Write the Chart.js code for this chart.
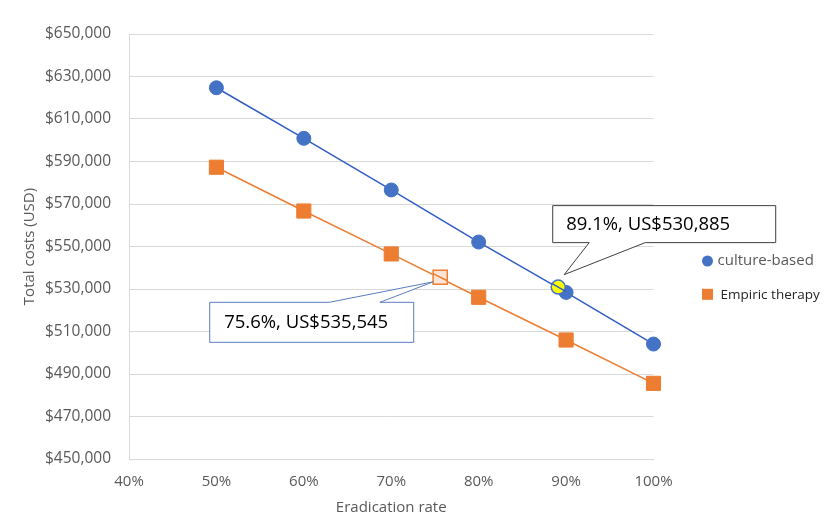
<!DOCTYPE html>
<html>
<head>
<meta charset="utf-8">
<script src="https://cdn.jsdelivr.net/npm/chart.js@4.4.0/dist/chart.umd.min.js"></script>
<style>
  html, body { margin: 0; padding: 0; background: #ffffff; }
  #wrap { width: 829px; height: 531px; position: relative; }
</style>
</head>
<body>
<div id="wrap"><canvas id="c"></canvas></div>
<script>
// ---- data ----
const rates = [50, 60, 70, 80, 90, 100];
const cultureCosts = [624700, 600900, 576600, 552100, 528400, 504100];
const empiricCosts = [587300, 566700, 546500, 526100, 506000, 485600];
const seriesNames = ['culture-based', 'Empiric therapy'];
const cultureThreshold = { x: 89.1, y: 530885 };
const empiricThreshold = { x: 75.6, y: 535545 };
const cultureLabel = '89.1%, US$530,885';
const empiricLabel = '75.6%, US$535,545';
const yTitle = 'Total costs (USD)';
const xTitle = 'Eradication rate';

const BLUE = '#4472C4';
const BLUE_LINE = '#2F5DC4';
const ORANGE = '#ED7D31';
const GRAY_TXT = '#595959';
const FONT = "'Open Sans', 'Noto Sans', sans-serif";

const toPts = (xs, ys) => xs.map((x, i) => ({ x: x, y: ys[i] }));

// draw a short segment of the series line through a highlight marker
function strokeThrough(ctx, chart, dsIndex, pt, half, color, width) {
  const xs = chart.scales.x, ys = chart.scales.y;
  const data = chart.data.datasets[dsIndex].data;
  let a = data[0], b = data[data.length - 1];
  for (let i = 0; i < data.length - 1; i++) {
    if (pt.x >= data[i].x && pt.x <= data[i + 1].x) { a = data[i]; b = data[i + 1]; }
  }
  const ax = xs.getPixelForValue(a.x), ay = ys.getPixelForValue(a.y);
  const bx = xs.getPixelForValue(b.x), by = ys.getPixelForValue(b.y);
  const px = xs.getPixelForValue(pt.x), py = ys.getPixelForValue(pt.y);
  const len = Math.hypot(bx - ax, by - ay);
  const ux = (bx - ax) / len, uy = (by - ay) / len;
  ctx.save();
  ctx.strokeStyle = color; ctx.lineWidth = width;
  ctx.beginPath();
  ctx.moveTo(px - ux * half, py - uy * half);
  ctx.lineTo(px + ux * half, py + uy * half);
  ctx.stroke();
  ctx.restore();
}

const overlayPlugin = {
  id: 'overlay',
  afterDatasetsDraw(chart) {
    const ctx = chart.ctx;
    const xs = chart.scales.x, ys = chart.scales.y;
    const area = chart.chartArea;

    // lines passing through highlight markers
    strokeThrough(ctx, chart, 0, cultureThreshold, 8, BLUE_LINE, 1.5);
    strokeThrough(ctx, chart, 1, empiricThreshold, 8, ORANGE, 1.5);

    // callout 1 (culture-based)
    let px = xs.getPixelForValue(cultureThreshold.x);
    let py = ys.getPixelForValue(cultureThreshold.y);
    let L = px - 6, T = py - 82, W = 223, H = 37;
    ctx.save();
    ctx.fillStyle = '#ffffff';
    ctx.strokeStyle = '#404040';
    ctx.lineWidth = 1;
    ctx.beginPath();
    ctx.moveTo(L + 0.5, T + 0.5);
    ctx.lineTo(L + W + 0.5, T + 0.5);
    ctx.lineTo(L + W + 0.5, T + H + 0.5);
    ctx.lineTo(L + 93, T + H + 0.5);
    ctx.lineTo(px + 6, py - 12.5);
    ctx.lineTo(L + 37, T + H + 0.5);
    ctx.lineTo(L + 0.5, T + H + 0.5);
    ctx.closePath();
    ctx.fill();
    ctx.stroke();
    ctx.fillStyle = '#000000';
    ctx.font = "18.5px " + FONT;
    ctx.textBaseline = 'middle';
    ctx.textAlign = 'left';
    ctx.fillText(cultureLabel, L + 14, T + H / 2 + 1);
    ctx.restore();

    // callout 2 (empiric)
    px = xs.getPixelForValue(empiricThreshold.x);
    py = ys.getPixelForValue(empiricThreshold.y);
    L = px - 231; T = py + 24.6; W = 204; H = 40;
    ctx.save();
    ctx.fillStyle = '#ffffff';
    ctx.strokeStyle = '#5B7DBF';
    ctx.lineWidth = 1;
    ctx.beginPath();
    ctx.moveTo(L + 0.5, T + 0.5);
    ctx.lineTo(L + 120, T + 0.5);
    ctx.lineTo(px - 7, py + 4.6);
    ctx.lineTo(L + 170.7, T + 0.5);
    ctx.lineTo(L + W + 0.5, T + 0.5);
    ctx.lineTo(L + W + 0.5, T + H + 0.5);
    ctx.lineTo(L + 0.5, T + H + 0.5);
    ctx.closePath();
    ctx.fill();
    ctx.stroke();
    ctx.fillStyle = '#000000';
    ctx.font = "18.5px " + FONT;
    ctx.textBaseline = 'middle';
    ctx.textAlign = 'left';
    ctx.fillText(empiricLabel, L + 15, T + H / 2 + 1);
    ctx.restore();

    // legend
    const midY = (area.top + area.bottom) / 2;
    const lx = area.right + 54;
    ctx.save();
    ctx.fillStyle = BLUE;
    ctx.beginPath();
    ctx.arc(lx, midY + 14.5, 5.5, 0, Math.PI * 2);
    ctx.fill();
    ctx.fillStyle = ORANGE;
    ctx.fillRect(lx - 5.5, midY + 47.8 - 5.5, 11, 11);
    ctx.textBaseline = 'middle';
    ctx.textAlign = 'left';
    ctx.font = "15px " + FONT;
    ctx.fillStyle = GRAY_TXT;
    ctx.fillText(seriesNames[0], lx + 10, midY + 14.5);
    ctx.fillStyle = '#262626';
    ctx.font = "13.5px " + FONT;
    ctx.fillText(seriesNames[1], lx + 13, midY + 48.5);
    ctx.restore();
  }
};

new Chart(document.getElementById('c'), {
  type: 'line',
  data: {
    datasets: [
      {
        label: seriesNames[0],
        data: toPts(rates, cultureCosts),
        borderColor: BLUE_LINE,
        borderWidth: 1.5,
        backgroundColor: BLUE,
        pointBackgroundColor: BLUE,
        pointBorderColor: BLUE,
        pointStyle: 'circle',
        pointRadius: 7,
        pointBorderWidth: 1,
        tension: 0,
        clip: false,
        order: 3
      },
      {
        label: seriesNames[1],
        data: toPts(rates, empiricCosts),
        borderColor: ORANGE,
        borderWidth: 1.5,
        backgroundColor: ORANGE,
        pointBackgroundColor: ORANGE,
        pointBorderColor: ORANGE,
        pointStyle: 'rect',
        pointRadius: 10,
        pointBorderWidth: 1,
        tension: 0,
        clip: false,
        order: 4
      },
      {
        label: 'culture threshold',
        data: [cultureThreshold],
        showLine: false,
        pointStyle: 'circle',
        pointRadius: 7,
        pointBackgroundColor: '#FFFF00',
        pointBorderColor: BLUE,
        pointBorderWidth: 1.5,
        clip: false,
        order: 1
      },
      {
        label: 'empiric threshold',
        data: [empiricThreshold],
        showLine: false,
        pointStyle: 'rect',
        pointRadius: 10,
        pointBackgroundColor: '#FBE5D6',
        pointBorderColor: ORANGE,
        pointBorderWidth: 1.5,
        clip: false,
        order: 2
      }
    ]
  },
  options: {
    responsive: true,
    maintainAspectRatio: false,
    animation: false,
    events: [],
    layout: { padding: { left: 0, right: 175.5, top: 34, bottom: 0 } },
    plugins: {
      legend: { display: false },
      tooltip: { enabled: false }
    },
    scales: {
      x: {
        type: 'linear',
        min: 40, max: 100,
        ticks: {
          stepSize: 10,
          padding: 14,
          color: GRAY_TXT,
          font: { family: FONT, size: 15 },
          callback: v => v + '%'
        },
        grid: { display: false, drawTicks: false },
        border: { display: true, color: '#D9D9D9', width: 1 },
        title: {
          display: true, text: xTitle, color: GRAY_TXT,
          font: { family: FONT, size: 15 },
          padding: { top: 0, bottom: 14 }
        },
        afterFit: s => { s.height = 72; }
      },
      y: {
        min: 450000, max: 650000,
        ticks: {
          stepSize: 20000,
          padding: 18,
          color: GRAY_TXT,
          font: { family: FONT, size: 15.5 },
          callback: v => '$' + Number(v).toLocaleString('en-US')
        },
        grid: { color: '#D9D9D9', lineWidth: 1, drawTicks: false },
        border: { display: true, color: '#D9D9D9', width: 1 },
        title: {
          display: true, text: yTitle, color: GRAY_TXT,
          font: { family: FONT, size: 15 },
          padding: { top: 21, bottom: 0 }
        },
        afterFit: s => { s.width = 129; }
      }
    }
  },
  plugins: [overlayPlugin]
});
</script>
</body>
</html>
